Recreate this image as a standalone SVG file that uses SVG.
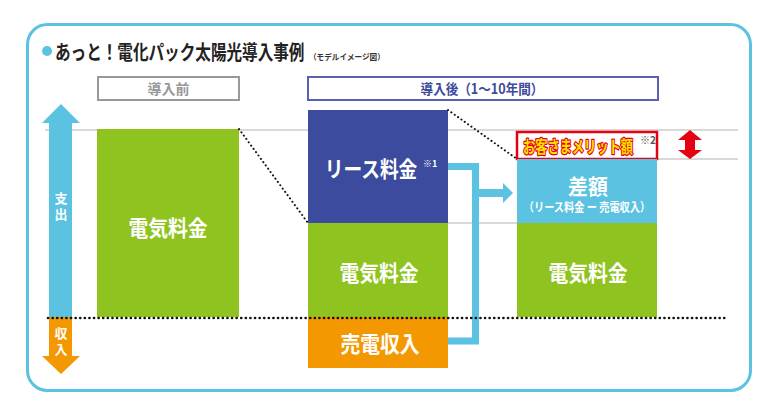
<svg xmlns="http://www.w3.org/2000/svg" width="768" height="415" viewBox="0 0 768 415">
<defs>
<style>
.jp{font-family:"Noto Sans CJK JP","Noto Sans",sans-serif;font-weight:bold;}
.wt{fill:#ffffff;text-anchor:middle;}
.vt{fill:#ffffff;writing-mode:vertical-rl;letter-spacing:3px;}
.grid{stroke:#cccccc;stroke-width:1.5;fill:none;}
.dots{stroke:#111111;fill:none;stroke-linecap:round;}
</style>
</defs>
<rect x="0" y="0" width="768" height="415" fill="#ffffff"/>
<rect id="frame" x="27.5" y="24.5" width="723" height="366" rx="20" ry="20" fill="none" stroke="#5bc2e2" stroke-width="3"/>
<g id="title">
<circle cx="47" cy="51" r="5" fill="#5bc2e2"/>
<text class="jp" transform="translate(55,60) scale(0.78,1)" font-size="20" fill="#222">あっと！電化パック太陽光導入事例</text>
<text class="jp" transform="translate(309,60) scale(0.95,1)" font-size="8" fill="#333">（モデルイメージ図）</text>
</g>
<g id="guides">
<line class="grid" x1="45" y1="130" x2="738" y2="130"/>
<line class="grid" x1="657" y1="159" x2="738" y2="159"/>
<line class="grid" x1="448" y1="223" x2="517" y2="223"/>
</g>
<g id="header-before">
<rect x="98" y="77" width="141" height="23" fill="#fff" stroke="#999" stroke-width="2"/>
<text class="jp" x="168.5" y="94" font-size="14" fill="#999" text-anchor="middle">導入前</text>
</g>
<g id="header-after">
<rect x="308" y="77" width="350" height="23" fill="#fff" stroke="#5a62ad" stroke-width="2"/>
<text class="jp" transform="translate(482,94) scale(0.9,1)" font-size="14" fill="#3c4b9b" text-anchor="middle">導入後（1〜10年間）</text>
</g>
<g id="axis">
<polygon points="61,104 80,123 72,123 72,317 49,317 49,123 42,123" fill="#5bc2e2"/>
<polygon points="49,317 72,317 72,356 80,356 61,374 42,356 49,356" fill="#f39800"/>
<text class="jp vt" x="61" y="192" font-size="13">支出</text>
<text class="jp vt" x="61" y="327" font-size="13" letter-spacing="2">収入</text>
</g>
<g id="before-power">
<rect x="97" y="129" width="142" height="188" fill="#8fc31f"/>
<text class="jp wt" transform="translate(168,236) scale(0.9,1)" font-size="22">電気料金</text>
</g>
<g id="after-lease">
<rect x="308" y="110" width="140" height="113" fill="#3c4b9d"/>
<text class="jp wt" transform="translate(371,177) scale(0.85,1)" font-size="22">リース料金</text>
<text class="jp" x="423" y="167" font-size="9" fill="#fff">※1</text>
</g>
<g id="after-power">
<rect x="308" y="223" width="140" height="94" fill="#8fc31f"/>
<text class="jp wt" transform="translate(379,281) scale(0.9,1)" font-size="22">電気料金</text>
</g>
<g id="after-sale">
<rect x="308" y="317" width="140" height="51" fill="#f39800"/>
<text class="jp wt" transform="translate(380,352) scale(0.9,1)" font-size="22">売電収入</text>
</g>
<g id="merit">
<rect x="517" y="132" width="140" height="27" fill="#fff" stroke="#e60012" stroke-width="2.5"/>
<text class="jp" transform="translate(578,153) scale(0.72,1)" font-size="17" fill="#ffe100" stroke="#e60012" stroke-width="2.5" paint-order="stroke" stroke-linejoin="round" text-anchor="middle">お客さまメリット額</text>
<text class="jp" x="640" y="144" font-size="10" fill="#555">※2</text>
</g>
<g id="merit-arrow">
<polygon points="690,130 702,140 695,140 695,150 702,150 690,159 678,150 685,150 685,140 678,140" fill="#e60012"/>
</g>
<g id="diff">
<rect x="517" y="159" width="140" height="64" fill="#5bc2e2"/>
<text class="jp wt" transform="translate(588,194) scale(0.95,1)" font-size="21">差額</text>
<text class="jp wt" transform="translate(587,212) scale(0.85,1)" font-size="12">（リース料金 ー 売電収入）</text>
</g>
<g id="after-power-2">
<rect x="517" y="223" width="140" height="94" fill="#8fc31f"/>
<text class="jp wt" transform="translate(588,281) scale(0.9,1)" font-size="22">電気料金</text>
</g>
<g id="connectors">
<path d="M448,166.5 H475.5 V341 H448" fill="none" stroke="#5bc2e2" stroke-width="7"/>
<path d="M475.5,193 H505" fill="none" stroke="#5bc2e2" stroke-width="8"/>
<polygon points="503,183 513,193 503,203" fill="#5bc2e2"/>
<line class="dots" x1="239" y1="129" x2="308" y2="223" stroke-width="2" stroke-dasharray="0.1 4"/>
<line class="dots" x1="448" y1="110" x2="517" y2="159" stroke-width="2" stroke-dasharray="0.1 4"/>
<line class="dots" x1="48" y1="318" x2="725" y2="318" stroke-width="2.6" stroke-dasharray="0.1 4.5"/>
</g>
</svg>
